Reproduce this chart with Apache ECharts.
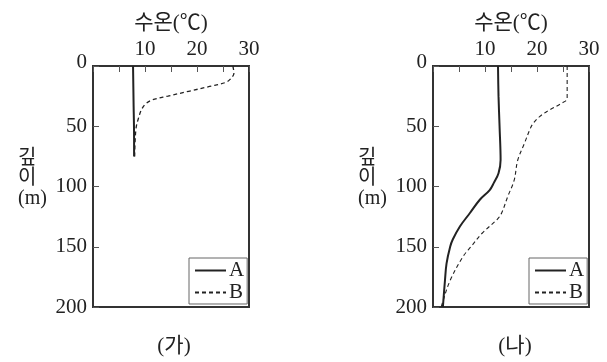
<!DOCTYPE html>
<html>
<head>
<meta charset="utf-8">
<script src="https://cdn.jsdelivr.net/npm/echarts@6/dist/echarts.min.js"></script>
<style>
  html, body { margin: 0; padding: 0; background: #fff; }
</style>
</head>
<body>
<div id="main" style="width:607px;height:362px"></div>
<script>
// 수온(℃) - 깊이(m) 데이터
const tempTicks = [0, 5, 10, 15, 20, 25, 30];
const depthTicks = [0, 50, 100, 150, 200];
const legendNames = ['A', 'B'];

// (가)
const depthA1 = [0, 30, 60, 75];
const tempA1 = [7.7, 7.8, 7.9, 7.9];
const depthB1 = [0, 6, 10, 13.5, 17, 21, 25, 28, 31.5, 36.5, 44, 51, 62, 75];
const tempB1 = [26.9, 27.1, 26.6, 25.6, 22.4, 18.4, 14.4, 11.5, 10.1, 9.3, 8.7, 8.3, 8.1, 8.0];

// (나)
const depthA2 = [0, 25, 50, 78, 89, 97, 103, 111, 122, 133, 144, 150, 164, 178, 200];
const tempA2 = [12.5, 12.6, 12.8, 13.0, 12.6, 11.7, 10.9, 9.0, 7.1, 5.2, 3.8, 3.3, 2.6, 2.3, 1.9];
const depthB2 = [0, 27, 31, 36.5, 42, 48, 53, 64, 78, 95, 108, 122, 127, 139, 150, 158, 178, 198, 200];
const tempB2 = [25.8, 25.8, 24.7, 22.4, 20.5, 19.2, 18.6, 17.6, 16.3, 15.6, 14.4, 13.2, 12.4, 9.4, 7.3, 5.8, 3.3, 1.7, 1.6];

const pairs = (t, d) => t.map((v, i) => [v, d[i]]);

const FONT = '"Liberation Serif", "Noto Sans CJK KR", serif';
const INK = '#222';

const myChart = echarts.init(document.getElementById('main'));

function xAxisFor(gridIndex) {
  return {
    type: 'value', gridIndex, position: 'top',
    min: tempTicks[0], max: tempTicks[tempTicks.length - 1], interval: 5,
    name: '수온(℃)', nameLocation: 'middle', nameGap: 27,
    nameTextStyle: { fontFamily: FONT, fontSize: 21, color: INK },
    axisLine: { show: true, lineStyle: { color: '#333', width: 2 } },
    axisTick: { show: true, inside: true, length: 6, lineStyle: { color: '#555', width: 1 } },
    axisLabel: {
      margin: 6, fontFamily: FONT, fontSize: 21, color: INK,
      formatter: v => (v > 0 && v % 10 === 0 ? String(v) : '')
    },
    splitLine: { show: false }
  };
}

function yAxisFor(gridIndex) {
  return {
    type: 'value', gridIndex, inverse: true,
    min: depthTicks[0], max: depthTicks[depthTicks.length - 1], interval: 50,
    axisLine: { show: true, lineStyle: { color: '#333', width: 2 } },
    axisTick: { show: true, inside: true, length: 6, lineStyle: { color: '#555', width: 1 } },
    axisLabel: {
      margin: 6, fontFamily: FONT, fontSize: 21, color: INK,
      formatter: v => (v === 0 ? '{z|0}' : String(v)),
      rich: { z: { fontFamily: FONT, fontSize: 21, color: INK, padding: [0, 0, 8, 0] } }
    },
    splitLine: { show: false }
  };
}

function lineSeries(name, idx, data, dashed, width) {
  return {
    name, type: 'line', xAxisIndex: idx, yAxisIndex: idx,
    data, smooth: 0.35, symbol: 'none', showSymbol: false,
    itemStyle: { color: INK },
    lineStyle: { color: INK, width, type: dashed ? [4, 3] : 'solid' },
    animation: false
  };
}

function legendFor(left) {
  return {
    data: legendNames, orient: 'vertical', left, top: 258,
    padding: [2, 3, 1, 5], itemGap: 1, itemWidth: 31, itemHeight: 12,
    borderColor: '#666', borderWidth: 1, borderRadius: 0,
    itemStyle: { opacity: 0 },
    textStyle: { fontFamily: FONT, fontSize: 21, color: INK, padding: [0, 0, 0, -2] },
    selectedMode: false
  };
}

myChart.setOption({
  backgroundColor: '#fff',
  grid: [
    { left: 93, top: 66, width: 156, height: 241, show: true, borderColor: '#333', borderWidth: 2 },
    { left: 433, top: 66, width: 156, height: 241, show: true, borderColor: '#333', borderWidth: 2 }
  ],
  xAxis: [xAxisFor(0), xAxisFor(1)],
  yAxis: [yAxisFor(0), yAxisFor(1)],
  legend: [legendFor(189), legendFor(529)],
  title: [
    { text: '(가)', left: 169, top: 331, textAlign: 'center',
      textStyle: { fontFamily: FONT, fontSize: 21, fontWeight: 'normal', color: INK } },
    { text: '(나)', left: 510, top: 331, textAlign: 'center',
      textStyle: { fontFamily: FONT, fontSize: 21, fontWeight: 'normal', color: INK } }
  ],
  graphic: [
    { type: 'text', left: 18, top: 149,
      style: { text: '깊\n이\n(m)', fontFamily: FONT, fontSize: 20, lineHeight: 20, fill: INK, align: 'center' } },
    { type: 'text', left: 358, top: 149,
      style: { text: '깊\n이\n(m)', fontFamily: FONT, fontSize: 20, lineHeight: 20, fill: INK, align: 'center' } }
  ],
  series: [
    lineSeries('A', 0, pairs(tempA1, depthA1), false, 2),
    lineSeries('B', 0, pairs(tempB1, depthB1), true, 1.3),
    lineSeries('A', 1, pairs(tempA2, depthA2), false, 2),
    lineSeries('B', 1, pairs(tempB2, depthB2), true, 1.1)
  ]
});
</script>
</body>
</html>
